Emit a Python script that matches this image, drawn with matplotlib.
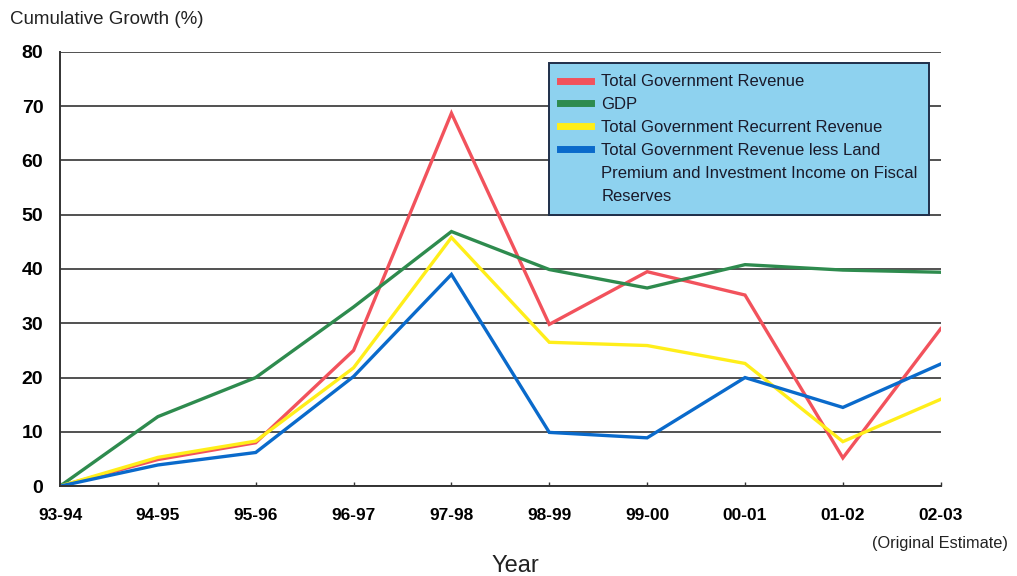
import matplotlib
matplotlib.use("Agg")
import matplotlib.pyplot as plt
from matplotlib.lines import Line2D

plt.rcParams['font.family'] = ['Liberation Sans', 'DejaVu Sans']

years = ['93-94', '94-95', '95-96', '96-97', '97-98', '98-99', '99-00', '00-01', '01-02', '02-03']

total_revenue = [0, 4.9, 8.0, 25.0, 68.7, 29.8, 39.5, 35.2, 5.2, 29.0]
gdp = [0, 12.8, 20.0, 33.0, 46.9, 39.9, 36.5, 40.8, 39.8, 39.4]
recurrent_revenue = [0, 5.3, 8.3, 21.8, 45.8, 26.5, 25.9, 22.6, 8.2, 16.0]
revenue_less_land = [0, 3.9, 6.2, 20.2, 39.0, 9.9, 8.9, 20.0, 14.5, 22.5]

labels = ['Total Government Revenue', 'GDP', 'Total Government Recurrent Revenue',
          'Total Government Revenue less Land']
extra_lines = ['Premium and Investment Income on Fiscal', 'Reserves']
colors = ['#f2525c', '#2e8b4e', '#ffee1a', '#0a6acb']

fig = plt.figure(figsize=(10.17, 5.76), dpi=100)
ax = fig.add_axes([0.059, 0.156, 0.866, 0.754])

x = list(range(len(years)))
handles = []
for ys, lab, c in zip([total_revenue, gdp, recurrent_revenue, revenue_less_land], labels, colors):
    h, = ax.plot(x, ys, color=c, lw=2.4, label=lab, solid_joinstyle='miter')
    handles.append(h)

ax.set_xlim(0, len(years) - 1)
ax.set_ylim(0, 80)
ax.set_yticks(range(0, 81, 10))
ax.set_xticks(x)
ax.set_xticklabels(years, fontsize=12.5, fontweight='bold')
ax.set_yticklabels([str(v) for v in range(0, 81, 10)], fontsize=14, fontweight='bold')
ax.tick_params(axis='y', length=0, pad=12)
ax.tick_params(axis='x', direction='in', length=3, width=1, color='#333333', pad=16)

ax.grid(axis='y', color='#333333', lw=1.2)
ax.set_axisbelow(True)
for s in ['top', 'right']:
    ax.spines[s].set_visible(False)
for s in ['left', 'bottom']:
    ax.spines[s].set_color('#333333')
    ax.spines[s].set_linewidth(1.4)

fig.text(0.010, 0.966, 'Cumulative Growth (%)', fontsize=13.5, ha='left', va='center', color='#222222')
fig.text(0.507, 0.017, 'Year', fontsize=17, ha='center', va='center', color='#222222')
fig.text(0.991, 0.057, '(Original Estimate)', fontsize=11.8, ha='right', va='center', color='#222222')

# wrapped part of the last label, with blank handles so the blue key sits on its first line
blank = [Line2D([], [], color='none') for _ in extra_lines]
leg = ax.legend(handles + blank, labels + extra_lines, loc='upper left',
                bbox_to_anchor=(0.555, 0.975), fontsize=12,
                frameon=True, fancybox=False, handlelength=1.85, handletextpad=0.6,
                borderpad=0.7, labelspacing=0.47, borderaxespad=0)
frame = leg.get_frame()
frame.set_facecolor('#8ed2ef')
frame.set_edgecolor('#1f2f4a')
frame.set_linewidth(1.4)
frame.set_alpha(1)
for line in leg.get_lines():
    line.set_linewidth(5)
for t in leg.get_texts():
    t.set_color('#1a1a2a')

fig.savefig('out.png', dpi=100)
